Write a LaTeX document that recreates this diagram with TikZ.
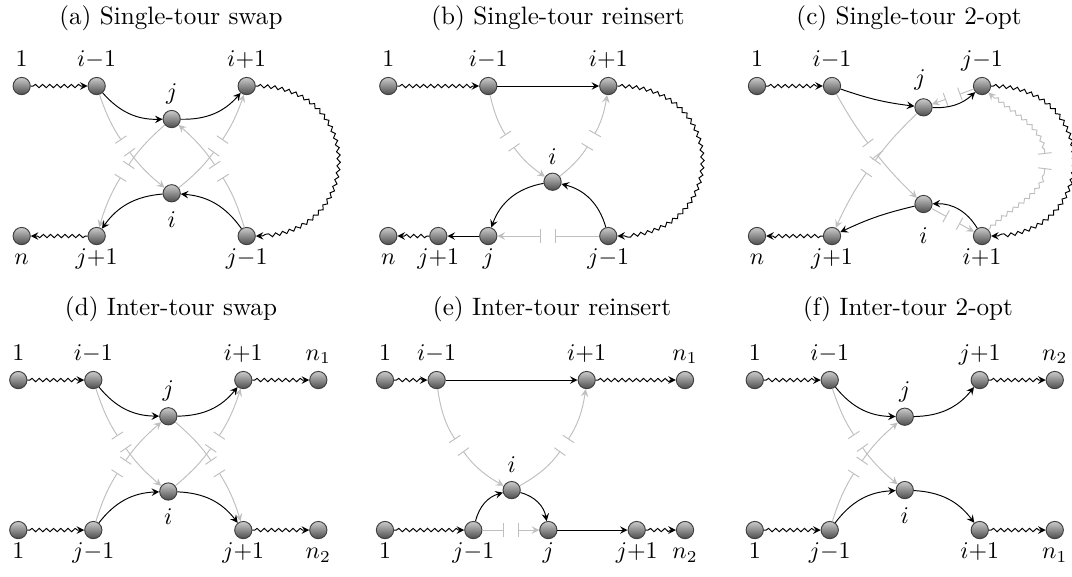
\documentclass[tikz,border=0pt]{standalone}
\usetikzlibrary{decorations.pathmorphing}

% removed edge: gray, broken in the middle
\newcommand{\cutedge}[4]{%
  \pgfmathsetmacro\halfbend{#2/2}
  \path (#3) to[bend #1=#2] coordinate[pos=.5] (cutmid) (#4);
  \draw[cut, -|, shorten >=3pt] (#3) to[bend #1=\halfbend] (cutmid);
  \draw[cut, |->, shorten <=3pt] (cutmid) to[bend #1=\halfbend] (#4);
}

\begin{document}
\begin{tikzpicture}[>=stealth, x=1.1cm, y=1.1cm,
    vtx/.style={circle, draw=black!75, top color=black!20, bottom color=black!70,
                minimum size=7.2pt, inner sep=0pt},
    lab above/.style={label={[anchor=base, label distance=4.4pt]90:#1}},
    lab below/.style={label={[anchor=base, label distance=8.2pt]-90:#1}},
    subcap/.style={anchor=base, font=\fontsize{10.5}{12}\selectfont},
    cut/.style={black!25},
    wave/.style={decorate, decoration={snake, amplitude=.7pt, segment length=3pt,
                 pre length=1pt, post length=2pt}}]
    \useasboundingbox (0,0) rectangle (14.293,-7.693);

    % (a) Single-tour swap
    \begin{scope}[shift={(0.289,-1.147)}]
        \node[subcap] (ta) at (1.99,0.827) {(a) Single-tour swap};
        \node[vtx, lab above=$1$] (a1) at (0,0) {};
        \node[vtx, lab above=$i{-}1$] (aim1) at (1,0) {};
        \node[vtx, lab above=$j$] (aj) at (2,-0.44) {};
        \node[vtx, lab above=$i{+}1$] (aip1) at (3,0) {};
        \node[vtx, label={[anchor=base, label distance=10.5pt]-90:$i$}] (ai) at (2,-1.43) {};
        \node[vtx, lab below=$n$] (an) at (0,-2) {};
        \node[vtx, lab below=$j{+}1$] (ajp1) at (1,-2) {};
        \node[vtx, lab below=$j{-}1$] (ajm1) at (3,-2) {};
        \cutedge{right}{15}{aim1}{ai}
        \cutedge{right}{15}{aj}{ajp1}
        \cutedge{right}{15}{ajm1}{aj}
        \cutedge{right}{15}{ai}{aip1}
        \draw[->, wave] (a1) -- (aim1);
        \draw[->] (aim1) to[bend right=25] (aj);
        \draw[->] (aj) to[bend right=25] (aip1);
        \draw[->, wave] (aip1) to[out=0, in=0, looseness=1.85] (ajm1);
        \draw[->] (ajm1) to[bend right=25] (ai);
        \draw[->] (ai) to[bend right=25] (ajp1);
        \draw[->, wave] (ajp1) -- (an);
    \end{scope}

    % (b) Single-tour reinsert
    \begin{scope}[shift={(5.177,-1.147)}]
        \node[subcap] (tb) at (2.263,0.827) {(b) Single-tour reinsert};
        \node[vtx, lab above=$1$] (b1) at (0,0) {};
        \node[vtx, lab above=$i{-}1$] (bim1) at (1.333,0) {};
        \node[vtx, lab above=$i{+}1$] (bip1) at (2.933,0) {};
        \node[vtx, label={[anchor=base, label distance=3.6pt]90:$i$}] (bi) at (2.19,-1.276) {};
        \node[vtx, lab below=$n$] (bn) at (0,-2) {};
        \node[vtx, lab below=$j{+}1$] (bjp1) at (0.667,-2) {};
        \node[vtx, lab below=$j$] (bj) at (1.333,-2) {};
        \node[vtx, lab below=$j{-}1$] (bjm1) at (2.933,-2) {};
        \cutedge{right}{20}{bim1}{bi}
        \cutedge{right}{20}{bi}{bip1}
        \cutedge{right}{0}{bjm1}{bj}
        \draw[->, wave] (b1) -- (bim1);
        \draw[->] (bim1) -- (bip1);
        \draw[->, wave] (bip1) to[out=0, in=0, looseness=1.9] (bjm1);
        \draw[->] (bjm1) to[bend right=30] (bi);
        \draw[->] (bi) to[bend right=30] (bj);
        \draw[->] (bj) -- (bjp1);
        \draw[->, wave] (bjp1) -- (bn);
    \end{scope}

    % (c) Single-tour 2-opt
    \begin{scope}[shift={(10.093,-1.147)}]
        \node[subcap] (tc) at (2.027,0.827) {(c) Single-tour 2-opt};
        \node[vtx, lab above=$1$] (c1) at (0,0) {};
        \node[vtx, lab above=$i{-}1$] (cim1) at (1,0) {};
        \node[vtx, label={[anchor=base, label distance=5.5pt, xshift=-1.5pt]90:$j$}] (cj) at (2.22,-0.284) {};
        \node[vtx, lab above=$j{-}1$] (cjm1) at (3,0) {};
        \node[vtx, label={[anchor=base, label distance=12.5pt]-90:$i$}] (ci) at (2.22,-1.573) {};
        \node[vtx, lab below=$n$] (cn) at (0,-2) {};
        \node[vtx, lab below=$j{+}1$] (cjp1) at (1,-2) {};
        \node[vtx, lab below=$i{+}1$] (cip1) at (3,-2) {};
        \cutedge{right}{8}{cim1}{ci}
        \cutedge{right}{10}{cj}{cjp1}
        \cutedge{right}{0}{cjm1}{cj}
        \cutedge{right}{0}{ci}{cip1}
        \coordinate (cw) at (3.85,-1);
        \draw[cut, wave, decoration={post length=5pt}, -|, shorten >=3pt] (cip1) to[out=45, in=-90] (cw);
        \draw[cut, wave, decoration={pre length=5pt}, |->, shorten <=3pt] (cw) to[out=90, in=-45] (cjm1);
        \draw[->, wave] (c1) -- (cim1);
        \draw[->] (cim1) to[bend right=6] (cj);
        \draw[->] (cj) to[bend right=22] (cjm1);
        \draw[->, wave] (cjm1) to[out=0, in=0, looseness=1.85] (cip1);
        \draw[->] (cip1) to[bend right=30] (ci);
        \draw[->] (ci) to[bend right=6] (cjp1);
        \draw[->, wave] (cjp1) -- (cn);
    \end{scope}

    % (d) Inter-tour swap
    \begin{scope}[shift={(0.244,-5.067)}]
        \node[subcap] (td) at (2.036,0.867) {(d) Inter-tour swap};
        \node[vtx, lab above=$1$] (d1) at (0,0) {};
        \node[vtx, lab above=$i{-}1$] (dim1) at (1,0) {};
        \node[vtx, lab above=$j$] (dj) at (2,-0.483) {};
        \node[vtx, lab above=$i{+}1$] (dip1) at (3,0) {};
        \node[vtx, lab above=$n_1$] (dn1) at (4,0) {};
        \node[vtx, lab below=$1$] (d1b) at (0,-2) {};
        \node[vtx, lab below=$j{-}1$] (djm1) at (1,-2) {};
        \node[vtx, label={[anchor=base, label distance=10pt]-90:$i$}] (di) at (2,-1.486) {};
        \node[vtx, lab below=$j{+}1$] (djp1) at (3,-2) {};
        \node[vtx, lab below=$n_2$] (dn2) at (4,-2) {};
        \cutedge{right}{15}{dim1}{di}
        \cutedge{left}{15}{djm1}{dj}
        \cutedge{left}{15}{dj}{djp1}
        \cutedge{right}{15}{di}{dip1}
        \draw[->, wave] (d1) -- (dim1);
        \draw[->] (dim1) to[bend right=25] (dj);
        \draw[->] (dj) to[bend right=25] (dip1);
        \draw[->, wave] (dip1) -- (dn1);
        \draw[->, wave] (d1b) -- (djm1);
        \draw[->] (djm1) to[bend left=25] (di);
        \draw[->] (di) to[bend left=25] (djp1);
        \draw[->, wave] (djp1) -- (dn2);
    \end{scope}

    % (e) Inter-tour reinsert
    \begin{scope}[shift={(5.133,-5.067)}]
        \node[subcap] (te) at (2.227,0.867) {(e) Inter-tour reinsert};
        \node[vtx, lab above=$1$] (e1) at (0,0) {};
        \node[vtx, lab above=$i{-}1$] (eim1) at (0.689,0) {};
        \node[vtx, lab above=$i{+}1$] (eip1) at (2.689,0) {};
        \node[vtx, lab above=$n_1$] (en1) at (4,0) {};
        \node[vtx, label={[anchor=base, label distance=3.6pt]90:$i$}] (ei) at (1.689,-1.467) {};
        \node[vtx, lab below=$1$] (e1b) at (0,-2) {};
        \node[vtx, lab below=$j{-}1$] (ejm1) at (1.178,-2) {};
        \node[vtx, lab below=$j$] (ej) at (2.178,-2) {};
        \node[vtx, lab below=$j{+}1$] (ejp1) at (3.356,-2) {};
        \node[vtx, lab below=$n_2$] (en2) at (4,-2) {};
        \cutedge{right}{25}{eim1}{ei}
        \cutedge{right}{25}{ei}{eip1}
        \cutedge{right}{0}{ejm1}{ej}
        \draw[->, wave] (e1) -- (eim1);
        \draw[->] (eim1) -- (eip1);
        \draw[->, wave] (eip1) -- (en1);
        \draw[->, wave] (e1b) -- (ejm1);
        \draw[->] (ejm1) to[bend left=30] (ei);
        \draw[->] (ei) to[bend left=32] (ej);
        \draw[->] (ej) -- (ejp1);
        \draw[->, wave] (ejp1) -- (en2);
    \end{scope}

    % (f) Inter-tour 2-opt
    \begin{scope}[shift={(10.063,-5.067)}]
        \node[subcap] (tf) at (2.044,0.867) {(f) Inter-tour 2-opt};
        \node[vtx, lab above=$1$] (f1) at (0,0) {};
        \node[vtx, lab above=$i{-}1$] (fim1) at (1,0) {};
        \node[vtx, lab above=$j$] (fj) at (2,-0.489) {};
        \node[vtx, lab above=$j{+}1$] (fjp1) at (3,0) {};
        \node[vtx, lab above=$n_2$] (fn2) at (4,0) {};
        \node[vtx, lab below=$1$] (f1b) at (0,-2) {};
        \node[vtx, lab below=$j{-}1$] (fjm1) at (1,-2) {};
        \node[vtx, label={[anchor=base, label distance=10pt]-90:$i$}] (fi) at (2,-1.467) {};
        \node[vtx, lab below=$i{+}1$] (fip1) at (3,-2) {};
        \node[vtx, lab below=$n_1$] (fn1) at (4,-2) {};
        \cutedge{right}{15}{fim1}{fi}
        \cutedge{left}{15}{fjm1}{fj}
        \draw[->, wave] (f1) -- (fim1);
        \draw[->] (fim1) to[bend right=25] (fj);
        \draw[->] (fj) to[bend right=25] (fjp1);
        \draw[->, wave] (fjp1) -- (fn2);
        \draw[->, wave] (f1b) -- (fjm1);
        \draw[->] (fjm1) to[bend left=25] (fi);
        \draw[->] (fi) to[bend left=25] (fip1);
        \draw[->, wave] (fip1) -- (fn1);
    \end{scope}
\end{tikzpicture}
\end{document}
